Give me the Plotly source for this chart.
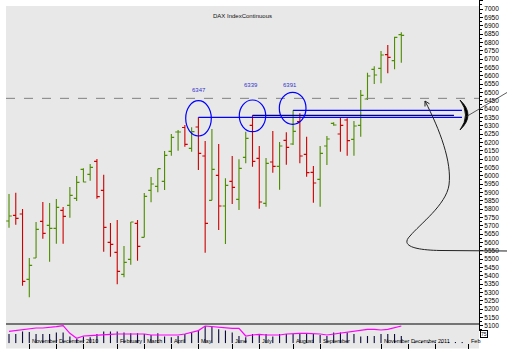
import plotly.graph_objects as go
import pandas as pd

W, H = 507, 360

# ---------------- data ----------------
start = pd.Timestamp('2009-10-12')
n_bars = 59
dates = [start + pd.Timedelta(weeks=i) for i in range(n_bars)]

opens = [5728, 5762, 5770, 5378, 5506, 5726, 5702, 5684, 5792, 5822,
         5864, 6038, 6008, 6086, 5912, 5600, 5540, 5408, 5498, 5714,
         5630, 5912, 5936, 5966, 6146, 6262, 6289, 6164, 6292, 6118,
         5852, 6002, 5818, 5966, 5858, 6110, 6302, 6104, 5834, 6082,
         6056, 6212, 6190, 6324, 6128, 6020, 5978, 6178, 6314, 6250,
         6334, 6218, 6302, 6460, 6638, 6644, 6726, 6690, 6846]
highs = [5890, 5898, 5800, 5506, 5722, 5842, 5836, 5860, 5812, 5932,
         5998, 6044, 6070, 6100, 6006, 5716, 5734, 5578, 5722, 5734,
         5896, 5992, 6042, 6148, 6250, 6274, 6304, 6290, 6350, 6208,
         6280, 6190, 5984, 6118, 6098, 6264, 6362, 6178, 6106, 6268,
         6202, 6260, 6392, 6374, 6234, 6058, 6178, 6238, 6320, 6350,
         6344, 6328, 6514, 6618, 6656, 6748, 6784, 6834, 6860]
lows = [5688, 5706, 5340, 5270, 5506, 5622, 5484, 5592, 5592, 5748,
        5848, 5960, 5970, 5862, 5544, 5514, 5348, 5390, 5466, 5490,
        5630, 5840, 5900, 5914, 6120, 6150, 6174, 6144, 6034, 5538,
        5852, 5674, 5590, 5830, 5794, 6074, 6054, 5802, 5814, 6018,
        5916, 6066, 6184, 6074, 5994, 5838, 5814, 6064, 6300, 6144,
        6120, 6120, 6234, 6454, 6550, 6554, 6614, 6638, 6678]
closes = [5758, 5744, 5366, 5462, 5678, 5654, 5684, 5810, 5756, 5882,
          5960, 5962, 6050, 5874, 5690, 5588, 5426, 5480, 5722, 5576,
          5876, 5950, 6042, 6122, 6230, 6262, 6188, 6264, 6134, 5714,
          6038, 5818, 5942, 5930, 6044, 6224, 6086, 5842, 6074, 6056,
          6178, 6170, 6266, 6118, 6018, 5956, 6134, 6220, 6304, 6302,
          6210, 6298, 6482, 6598, 6604, 6724, 6710, 6830, 6842]

volume = [9.3, 9.3, 11.7, 11.3, 9.3, 9.3, 9.3, 10.7, 10.7, 6.7,
          4.0, 6.7, 6.0, 9.3, 11.7, 11.7, 11.7, 10.7, 10.0, 10.0,
          9.3, 8.3, 10.0, 6.7, 6.0, 7.3, 9.3, 10.7, 13.3, 17.3,
          16.7, 14.0, 12.7, 10.7, 7.3, 6.0, 9.3, 9.3, 9.3, 6.7,
          9.3, 9.3, 9.3, 9.3, 9.3, 9.3, 8.3, 7.3, 10.7, 10.7,
          10.7, 9.3, 6.7, 7.3, 7.3, 9.3, 9.3, 9.3, 7.3]
vol_avg = [12.0, 12.7, 13.3, 14.7, 15.3, 15.3, 15.7, 16.7, 17.7, 10.0,
           5.0, 7.3, 7.7, 8.3, 8.3, 9.0, 9.3, 9.3, 9.3, 9.3,
           9.3, 8.3, 8.3, 8.3, 8.7, 8.3, 9.3, 10.7, 12.7, 17.3,
           16.7, 15.7, 15.0, 15.0, 15.0, 7.3, 8.3, 9.0, 8.3, 8.3,
           8.3, 9.3, 10.0, 10.0, 10.0, 10.0, 9.3, 8.3, 9.3, 10.0,
           10.7, 11.7, 12.7, 14.0, 14.0, 13.3, 14.0, 16.0, 17.3]
future_dates = ['2010-12-06', '2010-12-13', '2010-12-20', '2010-12-27',
                '2011-01-03', '2011-01-10', '2011-01-17', '2011-01-24']
future_volume = [1.3, 1.3, 1.3, 1.3, 1.3, 1.3, 1.3, 1.3]

tick_dates = ['2009-11-02', '2009-11-30', '2009-12-28', '2010-02-01', '2010-03-01',
              '2010-03-29', '2010-04-26', '2010-05-31', '2010-06-28', '2010-08-02',
              '2010-08-30', '2010-11-01', '2010-11-29', '2010-12-27', '2011-01-31']
tick_labels = ['November', 'December', '2010', 'February', 'March', 'April', 'May',
               'June', 'July', 'August', 'September', 'November', 'December', '2011', 'Feb']

peak_labels = ['6347', '6339', '6391']
peak_levels = [6350, 6362, 6392]
peak_starts = ['2010-04-26', '2010-06-21', '2010-08-02']
peak_ends = ['2011-01-23 19:00', '2011-01-15 12:00', '2011-01-23 19:00']
dash_level = 6464
last_value_label = '75'

GREEN = '#4e8c00'
RED = '#cc0000'

def px(x):
    return x / W

def py(y):
    return 1 - y / H

def path_px(cmds):
    out = []
    for c in cmds:
        if isinstance(c, str):
            out.append(c)
        else:
            out.append('%.5f,%.5f' % (px(c[0]), py(c[1])))
    return ' '.join(out)

# colour by close vs previous close
colors = []
for i, c in enumerate(closes):
    if i == 0 or c >= closes[i - 1]:
        colors.append('g')
    else:
        colors.append('r')

fig = go.Figure()
for key, col in (('g', GREEN), ('r', RED)):
    idx = [i for i, k in enumerate(colors) if k == key]
    fig.add_trace(go.Ohlc(
        x=[dates[i] for i in idx],
        open=[opens[i] for i in idx], high=[highs[i] for i in idx],
        low=[lows[i] for i in idx], close=[closes[i] for i in idx],
        increasing=dict(line=dict(color=col, width=1.1)),
        decreasing=dict(line=dict(color=col, width=1.1)),
        tickwidth=0.42, hoverinfo='skip', xaxis='x', yaxis='y'))

fig.add_trace(go.Bar(x=dates, y=volume, xaxis='x', yaxis='y2',
                     marker=dict(color='#0a0a3c', line=dict(width=0)),
                     width=1.15 * 86400000, hoverinfo='skip'))
fig.add_trace(go.Bar(x=future_dates, y=future_volume, xaxis='x', yaxis='y2',
                     marker=dict(color='#0a0a3c', line=dict(width=0)),
                     width=1.15 * 86400000, hoverinfo='skip'))
fig.add_trace(go.Scatter(x=dates, y=vol_avg, xaxis='x', yaxis='y2', mode='lines',
                         line=dict(color='#ff00ff', width=1.2), hoverinfo='skip'))

font = 'Liberation Sans, Arial, sans-serif'
fig.update_layout(
    width=W, height=H, margin=dict(l=0, r=0, t=0, b=0, autoexpand=False),
    paper_bgcolor='white', plot_bgcolor='rgba(0,0,0,0)', showlegend=False,
    font=dict(family=font, size=6, color='black'), barmode='overlay',
    xaxis=dict(domain=[px(6), px(479)], type='date', automargin=False,
               range=['2009-10-08 21:20', '2011-02-10 09:40'],
               anchor='y2', tickvals=tick_dates, ticks='outside', ticklen=5,
               tickcolor='black', tickwidth=1, showticklabels=False,
               showgrid=False, zeroline=False, showline=False,
               rangeslider=dict(visible=False)),
    yaxis=dict(domain=[py(331), 1], range=[7054 - 6 * 331, 7054], side='right',
               anchor='x', automargin=False, dtick=50, tick0=0, ticks='outside', ticklen=3,
               tickcolor='black', showline=True, linecolor='black', linewidth=1,
               showgrid=False, zeroline=False,
               tickfont=dict(family=font, size=6.5, color='black'),
               minor=dict(dtick=25, ticks='outside', ticklen=2, tickcolor='black')),
    yaxis2=dict(domain=[py(343.3), py(324)], range=[0, 19.3], visible=False,
                automargin=False),
)

shapes = []
# gray chart background
shapes.append(dict(type='rect', xref='paper', yref='paper', x0=px(6), x1=px(479),
                   y0=py(348.5), y1=py(6), fillcolor='#e8e8e8', line=dict(width=0),
                   layer='below'))
# volume panel separator
shapes.append(dict(type='line', xref='paper', yref='paper', x0=px(6), x1=px(479),
                   y0=py(324), y1=py(324), line=dict(color='black', width=1.2)))
# dashed reference level
shapes.append(dict(type='line', xref='paper', yref='y', x0=px(6), x1=px(479),
                   y0=dash_level, y1=dash_level,
                   line=dict(color='#808080', width=1, dash='dash')))
# peak levels
line_cols = ['#0000ff', '#000080', '#0000ff']
for lev, s, e, c in zip(peak_levels, peak_starts, peak_ends, line_cols):
    shapes.append(dict(type='line', xref='x', yref='y', x0=s, x1=e, y0=lev, y1=lev,
                       line=dict(color=c, width=1.2)))
# ellipses
for (x0, x1, y0, y1) in [(185.7, 211.3, 100.7, 136), (239.3, 265.7, 100, 131.7),
                         (279.3, 306, 92.3, 124.3)]:
    shapes.append(dict(type='circle', xref='paper', yref='paper', x0=px(x0), x1=px(x1),
                       y0=py(y1), y1=py(y0), line=dict(color='#0000ff', width=1.2)))
# thick bracket
shapes.append(dict(type='path', xref='paper', yref='paper',
                   path=path_px(['M', (460, 100), 'Q', (476, 115), (460, 130),
                                 'Q', (471, 115), (460, 100), 'Z']),
                   fillcolor='black', line=dict(color='black', width=0.8)))
shapes.append(dict(type='line', xref='paper', yref='paper', x0=px(466.5), x1=px(507),
                   y0=py(116.5), y1=py(92.5), line=dict(color='#333333', width=0.8)))
# curved arrow
shapes.append(dict(type='path', xref='paper', yref='paper',
                   path=path_px(['M', (507, 251), 'L', (440, 250.5),
                                 'C', (415, 250), (400, 246), (410, 236),
                                 'C', (420, 224), (446, 205), (449, 185),
                                 'C', (452, 162), (440, 130), (425, 101)]),
                   line=dict(color='#222222', width=1)))
shapes.append(dict(type='path', xref='paper', yref='paper',
                   path=path_px(['M', (425, 106.5), 'L', (425, 101), 'L', (429.5, 103.8)]),
                   line=dict(color='#222222', width=1)))
fig.update_layout(shapes=shapes)

ann = []
ann.append(dict(text='DAX IndexContinuous', xref='paper', yref='paper', x=px(242), y=py(10.5),
                showarrow=False, font=dict(size=6, color='#111111', family=font)))
for t, (x, y) in zip(peak_labels, [(199, 84.7), (251, 80), (290, 80)]):
    ann.append(dict(text=t, xref='paper', yref='paper', x=px(x), y=py(y), showarrow=False,
                    font=dict(size=6, color='#3333cc', family=font)))
for d, t in zip(tick_dates, tick_labels):
    ann.append(dict(text=t, xref='x', yref='paper', x=d, y=py(345.5), xanchor='left',
                    xshift=0.5, showarrow=False, font=dict(size=5.5, color='black', family=font)))
ann.append(dict(text=last_value_label, xref='paper', yref='paper', x=px(480), y=py(337.5),
                xanchor='left', showarrow=False, bgcolor='white', bordercolor='black',
                borderwidth=1, borderpad=0, font=dict(size=5, color='black', family=font)))
fig.update_layout(annotations=ann)

fig.write_html('out.html', config={'displayModeBar': False, 'staticPlot': True},
               post_script="document.body.style.margin='0';document.body.style.padding='0';")
